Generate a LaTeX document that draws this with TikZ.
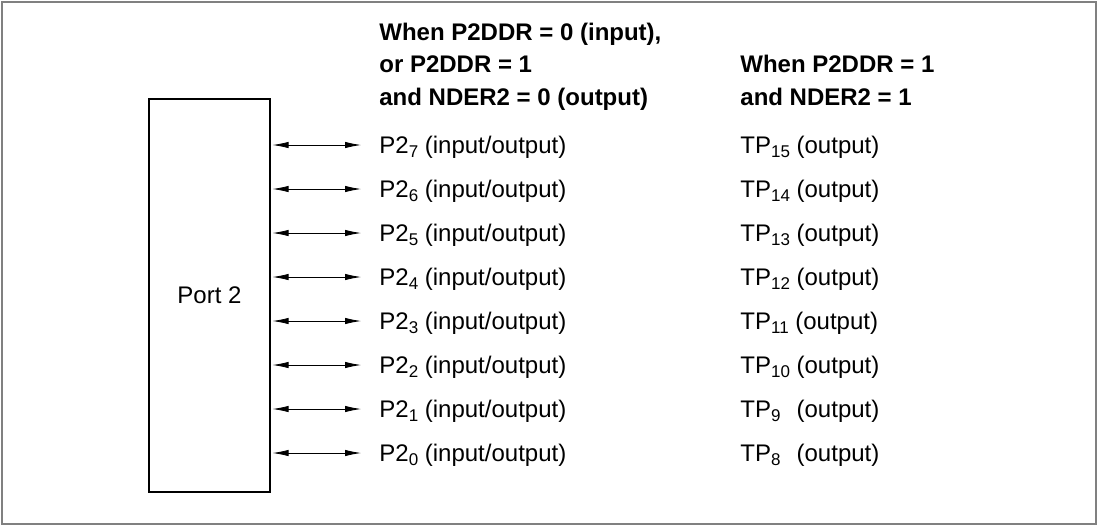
\documentclass[tikz,border=0pt]{standalone}
\usepackage{fontspec}
\setmainfont{Liberation Sans}
\usetikzlibrary{arrows.meta}

\newcommand{\idx}[1]{\raisebox{-2.2pt}{\fontsize{8.5}{8.5}\selectfont #1}}

\tikzset{
  pinlabel/.style={anchor=west, inner ysep=0pt, inner xsep=9pt, text height=10.5pt, text depth=2pt},
  heading/.style={anchor=base west, inner sep=0pt, align=left, font=\fontsize{12}{16.25}\selectfont\bfseries},
  pinarrow/.style={{Latex[length=8pt,width=3.2pt]}-{Latex[length=8pt,width=3.2pt]}, line width=0.4pt, shorten <=1pt}
}

\begin{document}
\begin{tikzpicture}[x=0.5pt,y=-0.5pt,font=\fontsize{12}{14.4}\selectfont]
  \useasboundingbox (0,0) rectangle (1098,526);
  \draw[gray, line width=0.75pt] (2,2) rectangle (1096,524);

  % headings (anchored at the baseline of their last line)
  \node[heading] (headA) at (379,105) {When P2DDR = 0 (input),\\or P2DDR = 1\\and NDER2 = 0 (output)};
  \node[heading] (headB) at (740,105) {When P2DDR = 1\\and NDER2 = 1};

  \node[draw, line width=0.6pt, minimum width=60.5pt, minimum height=196.5pt] (port) at (209.5,295.5) {Port 2};

  % one row per pin
  \foreach \i [count=\r from 0] in {7,...,0} {
    \pgfmathtruncatemacro{\tp}{\i+8}
    \node[pinlabel] (pin\i) at (361,145+44*\r) {P2\idx{\i} (input/output)};
    \ifnum\tp<10
      \node[pinlabel] (tp\i) at (722,145+44*\r) {TP\idx{\tp}\hphantom{\idx{0}} (output)};
    \else
      \node[pinlabel] (tp\i) at (722,145+44*\r) {TP\idx{\tp} (output)};
    \fi
    \draw[pinarrow] (port.east |- pin\i.west) -- (pin\i.west);
  }
\end{tikzpicture}
\end{document}
